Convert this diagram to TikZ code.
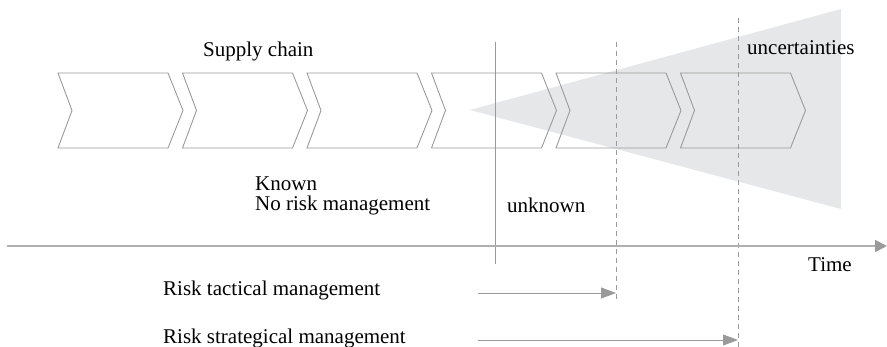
\documentclass[tikz,border=0pt]{standalone}
\usepackage{fontspec}
\setmainfont{Liberation Serif}
\usetikzlibrary{arrows.meta}
\definecolor{cone}{HTML}{E6E7E8}
\definecolor{outline}{HTML}{9A9A9A}
\definecolor{axisgray}{HTML}{B0B0B0}
\tikzset{
  chevline/.style={draw=outline, line width=0.9pt, line join=miter},
  chev/.pic={\draw[chevline] (0,0) -- (110,0) -- (125,37.5) -- (110,75)
                              -- (0,75) -- (14,37.5) -- cycle;},
  lbl/.style={font=\fontsize{21}{24}\selectfont, inner sep=0pt, anchor=base west},
  nowline/.style={draw=outline, line width=0.9pt},
  horizon/.style={draw=outline, line width=0.9pt, dash pattern=on 5pt off 4pt},
  timeaxis/.style={draw=axisgray, line width=1.8pt,
                   -{Triangle[length=12pt,width=12pt,color=outline,fill=outline]}},
  span/.style={draw=outline, line width=0.9pt,
               -{Triangle[length=15pt,width=11pt,color=outline,fill=outline]}}
}
\begin{document}
\begin{tikzpicture}[x=1pt,y=-1pt]
  \useasboundingbox (0,0) rectangle (887,347);

  % widening cone of uncertainty
  \fill[cone] (470,110) -- (841,9) -- (841,209) -- cycle;

  % supply chain stages
  \foreach \x [count=\i] in {58,182.5,307,431.5,556,680.5}
    \pic (stage\i) at (\x,73) {chev};

  % present and planning horizons
  \coordinate (nowtop) at (495,42);
  \coordinate (nowbot) at (495,264);
  \coordinate (tacttop) at (616,42);
  \coordinate (tactbot) at (616,299);
  \coordinate (strattop) at (738,18);
  \coordinate (stratbot) at (738,347);
  \draw[nowline] (nowtop) -- (nowbot);
  \draw[horizon] (tacttop) -- (tactbot);
  \draw[horizon] (strattop) -- (stratbot);

  % time axis
  \coordinate (t0) at (7,246);
  \coordinate (t1) at (887,246);
  \draw[timeaxis] (t0) -- (t1);

  % management ranges
  \coordinate (tactstart) at (478,293);
  \coordinate (tactend) at (616,293);
  \coordinate (stratstart) at (478,340);
  \coordinate (stratend) at (738,340);
  \draw[span] (tactstart) -- (tactend);
  \draw[span] (stratstart) -- (stratend);

  % labels
  \node[lbl] (chain) at (203,57) {Supply chain};
  \node[lbl] (unc) at (747,55) {uncertainties};
  \node[lbl] (known) at (255,191) {Known};
  \node[lbl] (norisk) at (255,211) {No risk management};
  \node[lbl] (unknown) at (507,213) {unknown};
  \node[lbl] (time) at (808,272) {Time};
  \node[lbl] (tact) at (163,296) {Risk tactical management};
  \node[lbl] (strat) at (163,344) {Risk strategical management};
\end{tikzpicture}
\end{document}
